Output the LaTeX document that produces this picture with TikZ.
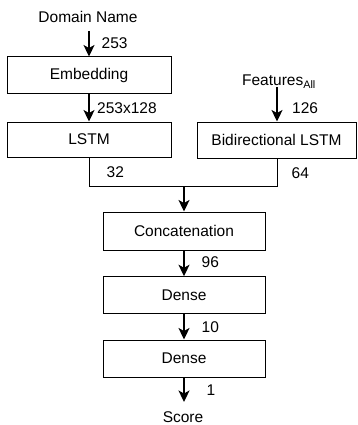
\documentclass[tikz,border=0pt]{standalone}
\usepackage{fontspec}
\setmainfont{Liberation Sans}
\usetikzlibrary{arrows.meta}
\tikzset{
  layer/.style={draw=black, line width=1pt, inner sep=0pt, minimum height=36pt},
  arr/.style={line width=1.6pt, -{Stealth[length=11.5pt,width=11pt,inset=3pt]}},
  link/.style={line width=1pt},
  lbl/.style={inner sep=0pt, anchor=west},
  txt/.style={inner sep=0pt},
}
\begin{document}
\begin{tikzpicture}[x=1pt,y=-1pt,font=\fontsize{15.5}{18}\selectfont]
\useasboundingbox (0,0) rectangle (357,425);
% inputs
\node[txt] (dom) at (88,17) {Domain Name};
\coordinate (domb) at (89,31);
\node[layer, minimum width=164pt, minimum height=37pt] (emb) at (89,75.5) {Embedding};
\node[layer, minimum width=164pt, minimum height=35pt] (lstm) at (89,139.5) {LSTM};
\node[txt] (feat) at (279,82) {Features\textsubscript{All}};
\coordinate (featb) at (277,87);
\node[layer, minimum width=159pt, minimum height=36pt] (bid) at (276.5,140) {Bidirectional LSTM};
\coordinate (join) at (184,186);
\node[layer, minimum width=162pt, minimum height=38pt] (cat) at (184,231) {Concatenation};
\node[layer, minimum width=162pt, minimum height=36.5pt] (d1) at (184,295) {Dense};
\node[layer, minimum width=162pt, minimum height=37pt] (d2) at (184,358.5) {Dense};
\node[txt] (score) at (183,417) {Score};
\coordinate (scoret) at (184,402);
% connectors
\draw[arr] (domb) -- (emb.north);
\draw[arr] (emb.south) -- (lstm.north);
\draw[arr] (featb) -- (featb |- bid.north);
\draw[link] (lstm.south) |- (join);
\draw[link] (bid.south -| featb) |- (join);
\draw[arr] (join) -- (cat.north);
\draw[arr] (cat.south) -- (d1.north);
\draw[arr] (d1.south) -- (d2.north);
\draw[arr] (d2.south) -- (scoret);
% labels
\node[lbl] (l253) at (101.5,43) {253};
\node[lbl] (l253b) at (97,108) {253x128};
\node[lbl] (l32) at (106.5,172) {32};
\node[lbl] (l126) at (292,108) {126};
\node[lbl] (l64) at (291.5,173) {64};
\node[lbl] (l96) at (201.5,262) {96};
\node[lbl] (l10) at (201.5,327) {10};
\node[lbl] (l1) at (206.5,390) {1};
\end{tikzpicture}
\end{document}
